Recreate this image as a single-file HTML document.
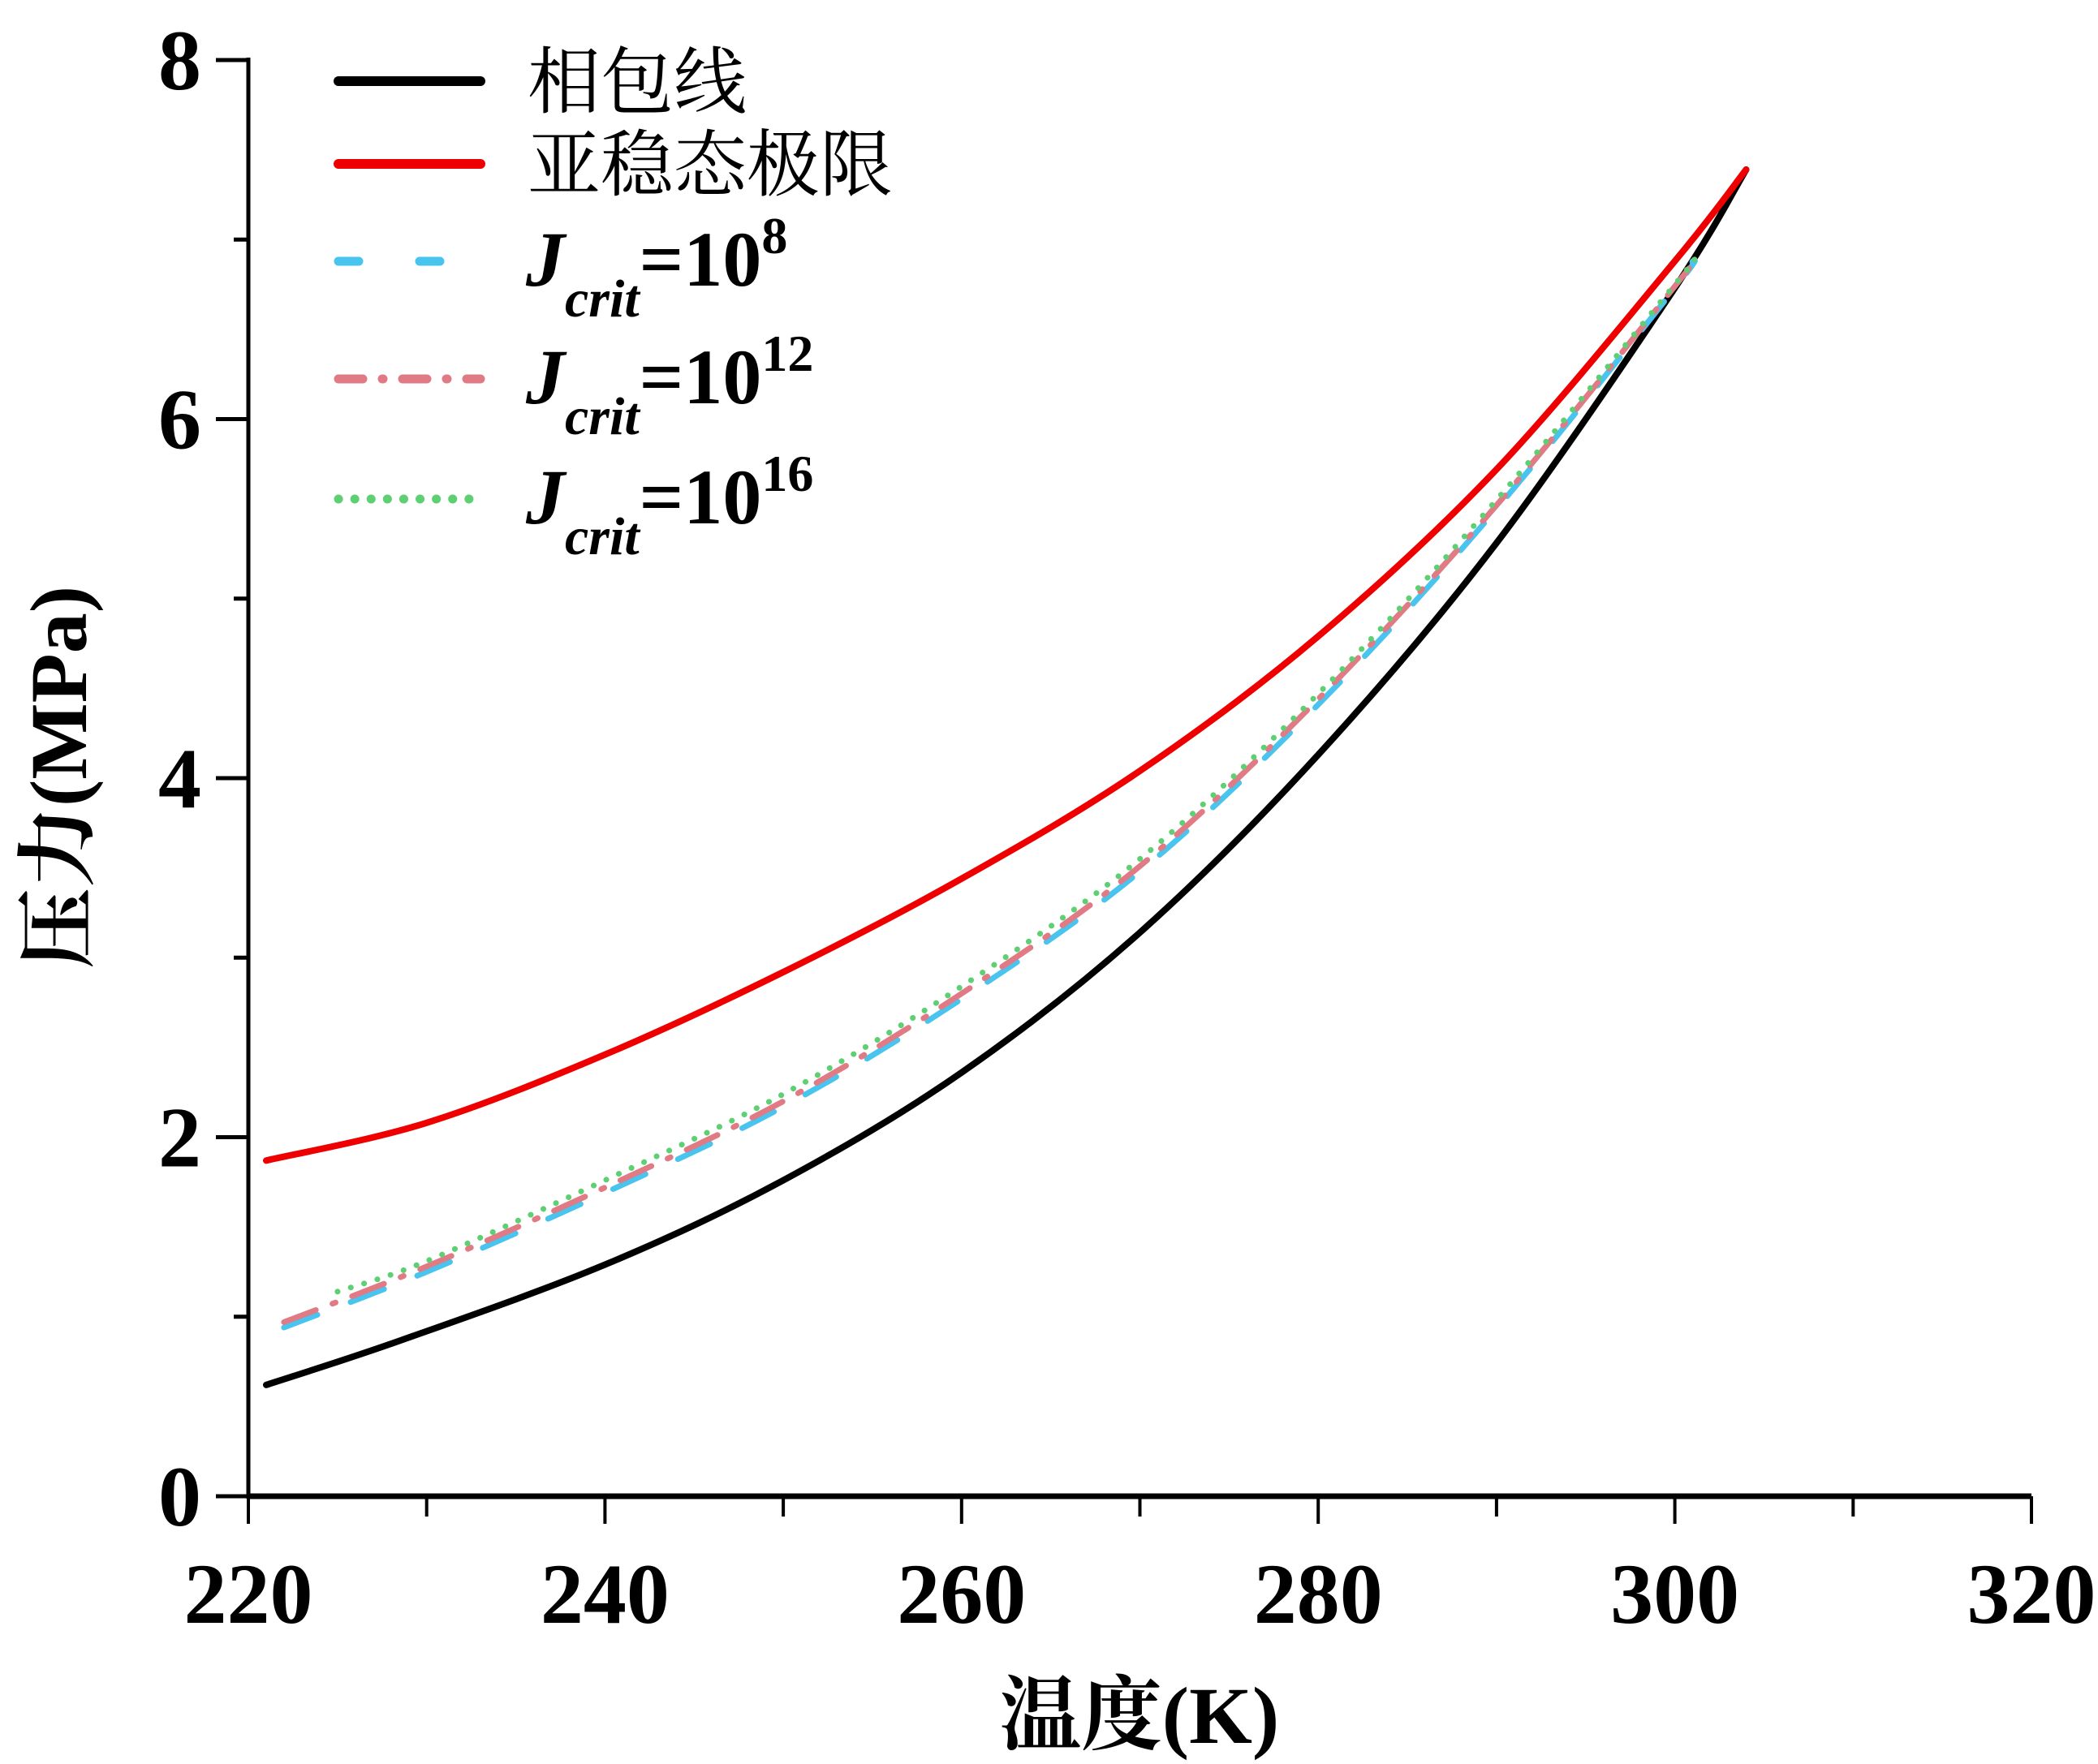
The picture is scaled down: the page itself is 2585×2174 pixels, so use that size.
<!DOCTYPE html>
<html><head><meta charset="utf-8"><style>
html,body{margin:0;padding:0;background:#fff;}
svg{display:block;}
text{font-family:"Liberation Serif","Noto Serif CJK SC",serif;}
</style></head><body>
<svg id="chart" width="2585" height="2174" viewBox="0 0 2585 2174" xmlns="http://www.w3.org/2000/svg">
<g id="axes"></g>
<g id="series"></g>
<g id="legend"></g>
<text x="1404" y="2148" text-anchor="middle" font-size="100" font-weight="bold">温度(K)</text>
<text transform="translate(106,958) rotate(-90)" text-anchor="middle" font-size="100" font-weight="bold">压力(MPa)</text>
</svg>
<script>
const xTicks=[220,240,260,280,300,320];
const yTicks=[0,2,4,6,8];
const tBlack=[221,228.6,240,250,260,270,280,290,300,304];
const pBlack=[0.62,0.87,1.29,1.76,2.36,3.14,4.13,5.31,6.73,7.39];
const tRed=[221,230,240,250,260,270,280,290,300,304];
const pRed=[1.87,2.08,2.46,2.92,3.44,4.04,4.79,5.72,6.88,7.39];
const tJ8=[222,230,240,250,260,270,280,290,300,301];
const pJ8=[0.94,1.25,1.69,2.17,2.77,3.48,4.41,5.5,6.73,6.88];
const tJ12=[222,230,240,250,260,270,280,290,300,301];
const pJ12=[0.97,1.28,1.72,2.2,2.8,3.51,4.44,5.52,6.74,6.88];
const tJ16=[225,230,240,250,260,270,280,290,300,301];
const pJ16=[1.14,1.31,1.76,2.24,2.84,3.55,4.47,5.55,6.75,6.88];
const legendLabels=["相包线","亚稳态极限","J","J","J"];
const legendExps=["","","8","12","16"];

const NS="http://www.w3.org/2000/svg";
const X0=306,X1=2503,Y0=1844,Y1=74;
function sx(t){return X0+(t-220)/(320-220)*(X1-X0);}
function sy(p){return Y0-(p-0)/(8-0)*(Y0-Y1);}
function mk(tag,attrs,parent){const e=document.createElementNS(NS,tag);for(const k in attrs)e.setAttribute(k,attrs[k]);parent.appendChild(e);return e;}
const axes=document.getElementById('axes');
let a=mk('line',{x1:X0,y1:Y0,x2:X1,y2:Y0,stroke:'#000','stroke-width':7},axes);


a=mk('line',{x1:X0,y1:Y0+3,x2:X0,y2:Y1-3,stroke:'#000','stroke-width':5},axes);


for(let t=220;t<=320;t+=10){
  const major=(t%20===0);
  const tk=mk('line',{x1:sx(t),y1:Y0,x2:sx(t),y2:Y0+(major?34:25),stroke:'#000','stroke-width':4},axes);
  
  
}
xTicks.forEach(t=>{
  const l=mk('text',{x:sx(t),y:2000,'text-anchor':'middle','font-size':106,'font-weight':'bold'},axes);
  l.textContent=t;
  
  
});
for(let p=0;p<=8;p+=1){
  const major=(p%2===0);
  const tk=mk('line',{x1:X0-(major?40:18),y1:sy(p),x2:X0,y2:sy(p),stroke:'#000','stroke-width':5},axes);
  
  
}
yTicks.forEach(p=>{
  const l=mk('text',{x:248,y:sy(p)+36,'text-anchor':'end','font-size':106,'font-weight':'bold'},axes);
  l.textContent=p;
  
  
});
const series=document.getElementById('series');
function smoothPath(ts,ps){
  const P=ts.map((t,i)=>[sx(t),sy(ps[i])]);
  let d='M'+P[0][0].toFixed(1)+','+P[0][1].toFixed(1);
  for(let i=0;i<P.length-1;i++){
    const p0=P[Math.max(0,i-1)],p1=P[i],p2=P[i+1],p3=P[Math.min(P.length-1,i+2)];
    const c1=[p1[0]+(p2[0]-p0[0])/6,p1[1]+(p2[1]-p0[1])/6];
    const c2=[p2[0]-(p3[0]-p1[0])/6,p2[1]-(p3[1]-p1[1])/6];
    d+=' C'+c1[0].toFixed(1)+','+c1[1].toFixed(1)+' '+c2[0].toFixed(1)+','+c2[1].toFixed(1)+' '+p2[0].toFixed(1)+','+p2[1].toFixed(1);
  }
  return d;
}
const styles=[
 {t:tBlack,p:pBlack,c:'#000',w:8,d:'',n:'phase-envelope-line'},
 {t:tRed,p:pRed,c:'#ee0000',w:8,d:'',n:'metastable-limit-line'},
 {t:tJ8,p:pJ8,c:'#48c4ef',w:7,d:'44 44',n:'jcrit-1e8-line'},
 {t:tJ12,p:pJ12,c:'#e07b85',w:7,d:'42 22 4 22',n:'jcrit-1e12-line'},
 {t:tJ16,p:pJ16,c:'#5fcf73',w:7,d:'0.1 17',n:'jcrit-1e16-line'}];
styles.forEach(s=>{
  const pl=mk('path',{d:smoothPath(s.t,s.p),fill:'none',stroke:s.c,'stroke-width':s.w,'stroke-linecap':'round','stroke-linejoin':'round'},series);
  if(s.d)pl.setAttribute('stroke-dasharray',s.d);
  
  
});
const legend=document.getElementById('legend');
const ly=[100,202,322,467,615];
styles.forEach((s,i)=>{
  const g=mk('g',{},legend);
  
  
  const ln=mk('line',{x1:417,y1:ly[i],x2:592,y2:ly[i],stroke:s.c,'stroke-width':s.w+4,'stroke-linecap':'round'},g);
  if(s.d)ln.setAttribute('stroke-dasharray',i===2?'25 75':(i===3?'30 24 1 24':'0.1 20'));
  if(i<2){
    const tx=mk('text',{x:650,y:ly[i]+32,'font-size':90},g);
    tx.textContent=legendLabels[i];
  } else {
    const tx=mk('text',{x:648,y:ly[i]+30,'font-size':96,'font-weight':'bold'},g);
    const t1=mk('tspan',{'font-style':'italic'},tx);t1.textContent='J';
    const t2=mk('tspan',{'font-style':'italic','font-size':66,dy:38},tx);t2.textContent='crit';
    const t3=mk('tspan',{dy:-38},tx);t3.textContent='=10';
    const t4=mk('tspan',{'font-size':64,dy:-40},tx);t4.textContent=legendExps[i];
  }
});
</script>
</body></html>
